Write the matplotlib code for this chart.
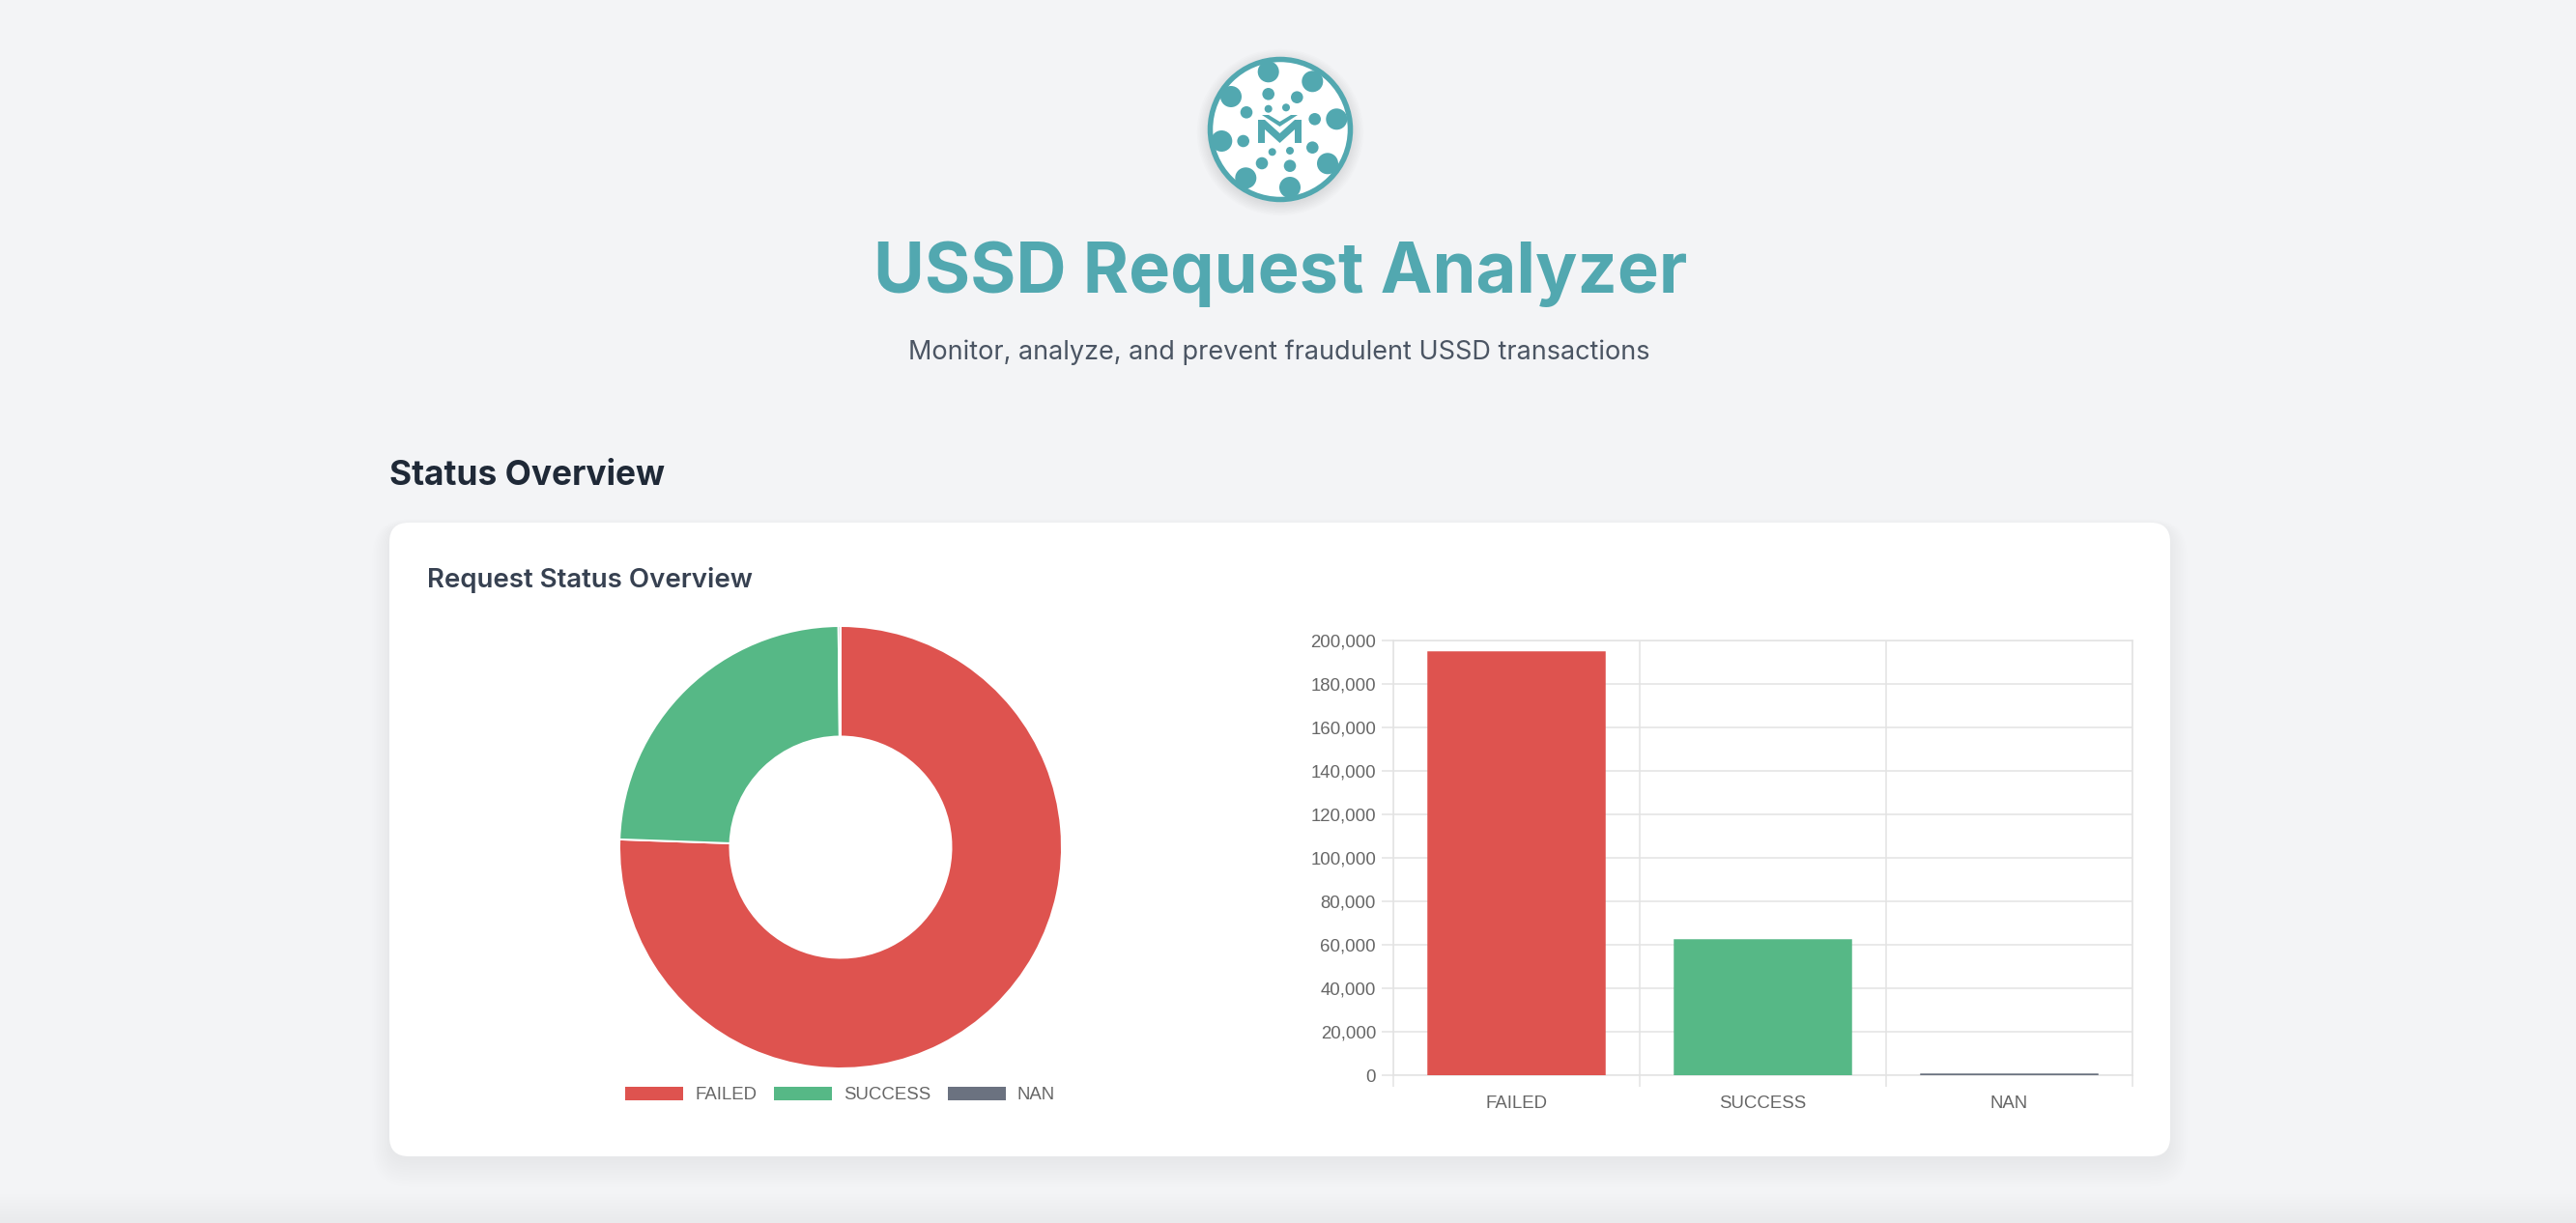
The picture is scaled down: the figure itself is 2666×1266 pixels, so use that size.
import matplotlib
matplotlib.use('Agg')
import matplotlib.pyplot as plt
from matplotlib.patches import FancyBboxPatch, Circle, Polygon, Rectangle
from matplotlib.ticker import FuncFormatter

# ---------------- data ----------------
categories = ['FAILED', 'SUCCESS', 'NAN']
counts = [194500, 62500, 400]
colors = ['#DE534F', '#56B886', '#6B7280']
yticks = list(range(0, 200001, 20000))

title = 'USSD Request Analyzer'
subtitle = 'Monitor, analyze, and prevent fraudulent USSD transactions'
section = 'Status Overview'
card_title = 'Request Status Overview'

# ---------------- layout helpers ----------------
W, H = 2666, 1266
DPI = 100


def pt(v):
    return v * 72 / DPI


BG = '#f3f4f6'
TEAL = '#52A8B0'
GRID = '#e3e3e3'
TXT = '#666666'
CHART_FONT = 'Liberation Sans'
FS = pt(18.6)

fig = plt.figure(figsize=(W / DPI, H / DPI), dpi=DPI, facecolor=BG)
bg = fig.add_axes([0, 0, 1, 1], zorder=0)
bg.set_xlim(0, W)
bg.set_ylim(H, 0)
bg.axis('off')
renderer = fig.canvas.get_renderer()


def fit_text(x, y, s, target_w, size_px, **kw):
    t = bg.text(x, y, s, fontsize=pt(size_px), **kw)
    w = t.get_window_extent(renderer).width
    t.set_fontsize(t.get_fontsize() * target_w / w)
    return t


# bottom soft band
for i in range(10):
    bg.add_patch(Rectangle((0, 1236 + i * 3), W, H, fc='black', alpha=0.004, ec='none', zorder=0))

# ---------------- logo ----------------
cx, cy = 1325, 134
for i in range(8):
    bg.add_patch(Circle((cx, cy + 3), 75 + i * 1.6, fc='black', alpha=0.01, ec='none', zorder=1))
bg.add_patch(Circle((cx, cy), 73, fc='white', ec='none', zorder=2))
big = [(1312.7, 74.3), (1358.3, 84.3), (1274, 100), (1383.3, 123.3), (1264.3, 146),
       (1374, 169.3), (1289.3, 184.3), (1335, 194)]
mid = [(1312.7, 97.3), (1342.3, 100.7), (1290, 116.3), (1360.7, 123.3), (1286.7, 146),
       (1358.3, 152.7), (1306, 169), (1335, 171.7)]
small = [(1312.7, 112.7), (1331, 111.3), (1316.7, 157.3), (1335, 156)]
for pts_, r in ((big, 11), (mid, 6.3), (small, 4)):
    for (x, y) in pts_:
        bg.add_patch(Circle((x, y), r, fc=TEAL, ec='none', zorder=3))
m_shape = [(1302, 124), (1309, 124), (1324.5, 138), (1340, 124), (1347, 124), (1347, 148),
           (1340, 148), (1340, 134), (1324.5, 148), (1309, 134), (1309, 148), (1302, 148)]
bg.add_patch(Polygon(m_shape, closed=True, fc=TEAL, ec='none', zorder=3))
chev = [(1306, 119), (1313, 119), (1324.5, 126), (1336, 119), (1343, 119), (1324.5, 131)]
bg.add_patch(Polygon(chev, closed=True, fc=TEAL, ec='none', zorder=3))
bg.add_patch(Circle((cx, cy), 72.5, fc='none', ec=TEAL, lw=pt(5.5), zorder=4))

# ---------------- headings ----------------
fit_text(1325, 303, title, 842, 74, family='Inter', weight='bold', color=TEAL,
         ha='center', va='baseline', zorder=5)
fit_text(1323.5, 371.7, subtitle, 767, 27, family='Inter', color='#4b5563',
         ha='center', va='baseline', zorder=5)
fit_text(403, 502, section, 285, 38, family='Inter', weight='bold', color='#1f2937',
         ha='left', va='baseline', zorder=5)

# ---------------- card ----------------
x0, y0, x1, y1, rad = 403, 541, 2246, 1197, 20
for i in range(12):
    e = i * 1.6
    off = 4 + i * 0.9
    bg.add_patch(FancyBboxPatch((x0 - e, y0 - e + off), (x1 - x0) + 2 * e, (y1 - y0) + 2 * e,
                                boxstyle=f'round,pad=0,rounding_size={rad + e}',
                                fc='black', alpha=0.0045, ec='none', zorder=1))
bg.add_patch(FancyBboxPatch((x0, y0), x1 - x0, y1 - y0,
                            boxstyle=f'round,pad=0,rounding_size={rad}',
                            fc='white', ec='none', zorder=2))
fit_text(442, 608, card_title, 336, 28, family='Inter', weight='semibold', color='#374151',
         ha='left', va='baseline', zorder=5)

# ---------------- donut ----------------
dcx, dcy, R = 870, 877, 229
half = 240
axd = fig.add_axes([(dcx - half) / W, (H - dcy - half) / H, 2 * half / W, 2 * half / H], zorder=3)
wedges, _ = axd.pie(counts, colors=colors, startangle=90, counterclock=False, radius=1,
                    wedgeprops=dict(width=0.5, edgecolor='white', linewidth=pt(2)))
lim = half / R
axd.set_xlim(-lim, lim)
axd.set_ylim(-lim, lim)
axd.set_aspect('equal')
axd.axis('off')

leg = fig.legend(wedges, categories, loc='center', bbox_to_anchor=(869 / W, 1 - 1133 / H),
                 ncol=3, frameon=False, handlelength=3.33, handleheight=0.97,
                 handletextpad=0.6, columnspacing=0.9,
                 prop={'family': CHART_FONT, 'size': FS})
for t in leg.get_texts():
    t.set_color(TXT)

# ---------------- bar chart ----------------
left, right, top, bottom = 1442, 2207, 663, 1113.3
axb = fig.add_axes([left / W, (H - bottom) / H, (right - left) / W, (bottom - top) / H], zorder=3)
axb.set_facecolor('white')
xs = list(range(len(categories)))
axb.bar(xs, counts, width=0.72, color=colors, edgecolor=colors, linewidth=pt(1.5), zorder=3)
axb.set_xlim(-0.5, len(categories) - 0.5)
axb.set_ylim(0, 200000)
axb.set_yticks(yticks)
axb.yaxis.set_major_formatter(FuncFormatter(lambda v, p: f'{int(v):,}'))
axb.set_xticks(xs)
axb.set_xticklabels(categories)
axb.set_xticks([i - 0.5 for i in range(len(categories) + 1)], minor=True)
axb.tick_params(axis='x', which='major', length=0, pad=pt(21))
axb.tick_params(axis='x', which='minor', length=pt(12), color=GRID, width=pt(1.5))
axb.tick_params(axis='y', which='major', length=pt(12), color=GRID, width=pt(1.5), pad=pt(6))
axb.tick_params(axis='both', labelsize=FS, labelcolor=TXT)
for lab in axb.get_xticklabels() + axb.get_yticklabels():
    lab.set_family(CHART_FONT)
axb.set_axisbelow(True)
axb.grid(axis='y', which='major', color=GRID, lw=pt(1.5))
axb.grid(axis='x', which='minor', color=GRID, lw=pt(1.5))
for s in axb.spines.values():
    s.set_color(GRID)
    s.set_linewidth(pt(1.5))

fig.savefig('out.png', dpi=DPI, facecolor=BG)
